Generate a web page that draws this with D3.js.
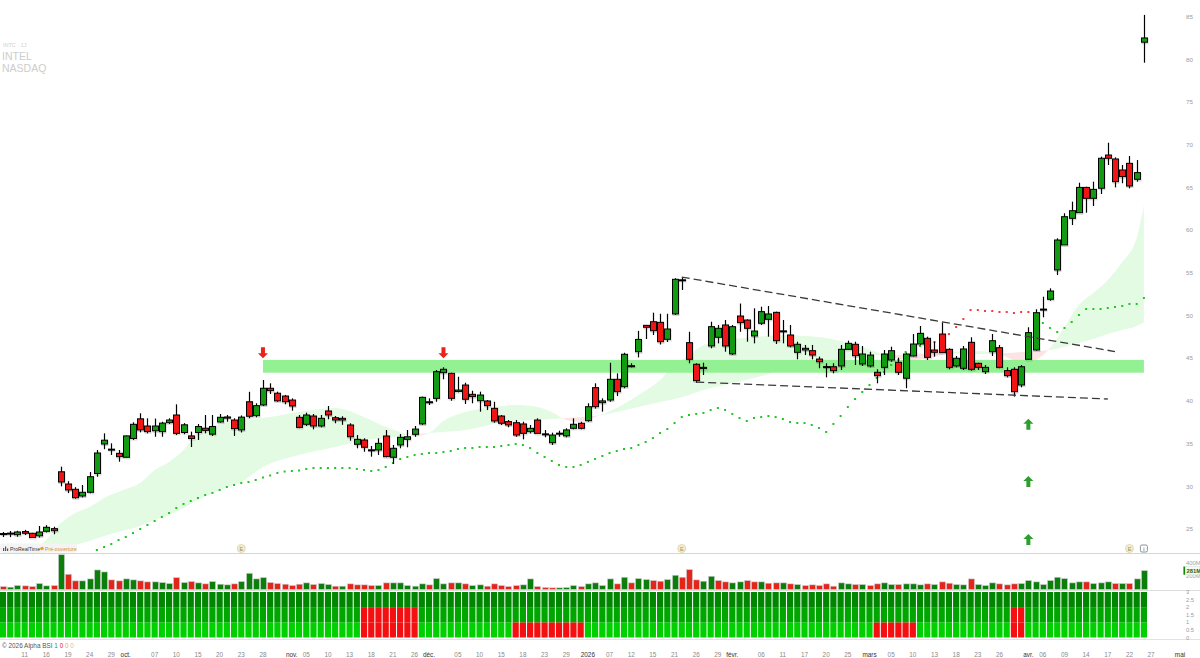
<!DOCTYPE html>
<html><head><meta charset="utf-8">
<script src="https://cdn.jsdelivr.net/npm/d3@7"></script>
<style>body{margin:0;background:#fff}svg{display:block;font-family:"Liberation Sans",Arial,sans-serif}</style>
</head><body><svg id="c" width="1200" height="658"></svg>
<script>
// ---------- DATA ----------
const tradingDays = {
 "2025-09":[8,9,10,11,12,15,16,17,18,19,22,23,24,25,26,29,30],
 "2025-10":[1,2,3,6,7,8,9,10,13,14,15,16,17,20,21,22,23,24,27,28,29,30,31],
 "2025-11":[3,4,5,6,7,10,11,12,13,14,17,18,19,20,21,24,25,26,28],
 "2025-12":[1,2,3,4,5,8,9,10,11,12,15,16,17,18,19,22,23,24,26,29,30,31],
 "2026-01":[2,5,6,7,8,9,12,13,14,15,16,20,21,22,23,26,27,28,29,30],
 "2026-02":[2,3,4,5,6,9,10,11,12,13,17,18,19,20,23,24,25,26,27],
 "2026-03":[2,3,4,5,6,9,10,11,12,13,16,17,18,19,20,23,24,25,26,27,30,31],
 "2026-04":[1,2,6,7,8,9,10,13,14,15,16,17,20,21,22,23,24,27,28,29,30],
 "2026-05":[1]
};
const open = [24.45,24.50,24.33,24.70,24.50,24.20,24.73,25.04,31.70,30.27,
29.65,28.86,29.30,31.50,34.95,34.33,33.86,33.40,35.60,37.90,
37.06,36.50,36.40,37.45,38.35,36.30,35.90,36.30,36.80,36.10,
37.53,37.98,37.76,36.60,39.90,38.27,39.52,41.48,40.90,40.57,
40.10,38.08,37.26,38.23,37.06,38.82,38.03,37.96,37.18,34.92,
35.42,34.25,34.25,35.89,33.40,34.84,35.50,36.09,37.30,39.87,
40.30,43.30,43.23,41.10,41.86,40.77,40.02,39.99,39.13,38.23,
37.57,37.45,37.30,36.40,37.76,36.12,35.10,36.20,35.90,36.79,
37.38,37.68,41.55,39.79,40.10,42.53,41.66,44.09,45.76,48.85,
49.27,49.20,47.21,50.18,54.16,46.82,44.29,43.80,46.43,47.45,
48.89,45.50,49.94,49.47,47.60,49.09,49.55,50.37,48.18,47.72,
45.69,45.96,45.88,44.90,44.00,44.00,44.09,46.04,46.63,44.32,
44.09,43.35,43.93,44.79,44.52,42.65,45.26,46.66,47.33,45.96,
47.83,46.04,44.09,43.82,46.86,44.40,43.42,45.76,46.23,43.54,
43.70,41.86,44.87,45.96,50.73,51.90,55.33,58.26,61.38,62.04,
65.00,63.72,64.90,68.79,68.33,67.04,67.82,65.95,82.00];
const high = [24.65,24.76,24.80,24.90,24.55,25.35,25.45,25.27,32.30,30.60,
29.90,30.15,31.67,34.25,36.20,35.03,34.25,35.95,37.49,38.55,
37.96,37.93,37.56,37.96,39.60,37.40,36.40,37.30,38.35,38.35,
38.47,38.35,37.96,38.30,41.07,39.72,42.45,42.06,41.08,40.70,
40.30,38.35,38.62,38.47,38.35,39.40,38.23,38.20,37.38,36.00,
35.62,34.72,35.62,36.59,34.84,36.12,36.59,37.06,40.50,40.30,
43.62,43.93,43.30,42.83,42.13,41.19,41.08,40.10,39.90,38.35,
37.76,37.76,37.56,37.18,37.96,36.59,36.28,36.51,36.79,37.96,
37.56,39.72,42.06,40.30,44.47,43.23,45.64,44.40,48.20,48.89,
50.33,50.20,50.20,54.36,54.47,48.10,44.40,44.47,49.27,48.89,
49.47,48.89,51.40,49.55,50.84,51.03,51.11,50.45,49.47,48.89,
46.93,46.55,46.55,45.18,44.40,44.40,46.55,47.05,46.93,46.43,
45.76,43.70,45.96,46.35,45.06,45.64,47.83,48.77,47.52,46.93,
49.20,46.16,45.26,46.43,47.45,44.47,44.20,47.83,46.55,43.93,
43.93,44.20,48.62,50.73,52.20,53.18,59.04,61.97,63.33,65.55,
65.08,65.67,68.60,70.23,68.52,67.62,68.68,68.20,85.20];
const low = [24.06,24.05,24.10,24.30,23.95,24.00,24.60,24.38,30.00,29.20,
28.55,28.70,29.18,31.12,34.35,33.67,32.88,33.35,35.42,36.32,
36.20,35.80,35.80,37.30,36.00,36.10,34.60,35.42,36.20,35.90,
37.45,37.56,35.90,36.30,37.96,38.08,39.40,40.81,39.90,39.60,
38.85,36.79,37.06,36.67,36.91,37.85,37.38,37.20,35.34,34.45,
34.05,33.47,33.67,33.40,32.61,34.45,34.57,35.80,37.20,39.52,
39.90,42.53,40.02,41.00,39.64,39.72,38.74,38.93,37.45,37.18,
36.91,35.80,35.50,36.20,36.12,35.74,34.84,35.80,35.74,36.67,
36.67,37.56,39.10,38.74,39.90,40.57,41.48,43.93,45.10,47.25,
47.72,46.60,46.90,50.06,52.99,44.40,42.13,43.03,46.16,46.74,
45.76,45.37,48.10,46.93,46.74,48.89,47.52,46.66,46.74,46.28,
44.87,45.37,44.87,43.82,42.76,43.23,43.62,45.96,44.20,44.09,
43.93,42.06,43.03,44.59,43.03,41.48,45.20,46.55,44.79,45.18,
45.60,43.70,43.93,43.62,43.54,43.62,43.15,45.26,43.82,42.76,
40.50,41.59,44.79,45.88,49.79,51.73,54.74,58.26,60.60,62.04,
62.04,62.82,64.23,67.62,65.00,65.48,64.89,65.67,79.60];
const close = [24.47,24.52,24.65,24.50,24.00,24.65,25.20,24.80,30.50,29.57,
28.66,29.30,31.12,33.90,35.40,34.35,33.47,35.90,37.26,36.60,
36.40,37.06,37.40,37.76,36.20,37.20,35.60,37.00,36.55,37.00,
38.08,38.12,36.75,38.10,38.20,39.44,41.48,41.20,40.00,39.90,
39.40,36.90,38.35,37.06,37.96,38.35,37.76,37.76,35.80,35.50,
34.57,34.27,35.03,33.47,34.45,35.74,35.80,36.70,40.42,39.90,
43.42,43.70,40.30,41.27,40.19,40.50,40.69,39.44,37.65,37.38,
37.18,36.00,36.20,36.79,36.20,36.14,36.00,36.22,36.60,37.26,
36.79,39.32,39.32,40.00,42.53,41.08,45.46,44.12,47.20,48.62,
48.22,46.93,48.42,54.24,54.18,44.87,42.37,43.93,48.69,48.50,
46.43,48.69,49.16,48.50,48.18,50.45,50.18,47.05,48.20,46.43,
46.63,46.16,45.37,44.59,44.02,43.54,46.04,46.74,45.30,45.49,
45.37,42.95,45.49,45.88,43.35,45.49,46.66,47.91,45.10,45.69,
45.65,43.93,44.99,46.08,43.70,43.93,43.93,47.05,43.93,42.95,
41.08,44.00,47.99,50.33,50.75,52.87,58.84,61.57,62.27,65.00,
63.72,64.77,68.41,68.41,65.67,66.26,65.16,66.73,82.50];
// volume in millions
const volume = [45,35,60,55,45,90,55,60,525,230,
130,130,160,295,265,145,130,160,145,130,
115,115,105,90,180,105,120,100,85,120,
80,70,85,120,245,160,180,105,90,80,
60,80,100,75,90,75,50,50,85,70,
70,60,60,100,100,100,60,50,85,70,
165,85,100,100,85,60,70,50,85,60,
45,60,70,160,45,30,25,25,30,60,
45,85,100,60,160,85,185,100,165,150,
135,125,150,215,185,300,145,125,200,135,
115,100,115,135,115,115,95,100,100,85,
75,60,70,60,85,50,100,85,75,75,
60,85,100,75,75,85,85,70,85,75,
115,95,75,70,160,75,60,100,85,70,
85,90,135,115,75,135,185,165,100,115,
115,90,100,115,90,90,90,160,285];
// Alpha BSI score (3 = all green, 2 = lowest block red, 1 = two lowest blocks red)
const alphaBSI = [3,3,3,3,3,3,3,3,3,3, 3,3,3,3,3,3,3,3,3,3, 3,3,3,3,3,3,3,3,3,3, 3,3,3,3,3,3,3,3,3,3, 3,3,3,3,3,3,3,3,3,3,
1,1,1,1,1,1,1,1, 3,3,3,3,3,3,3,3,3,3,3,3,3, 2,2,2,2,2,2,2,2,2,2,
3,3,3,3,3,3,3,3,3,3, 3,3,3,3,3,3,3,3,3,3, 3,3,3,3,3,3,3,3,3,3, 3,3,3,3,3,3,3,3,3,3,
2,2,2,2,2,2, 3,3,3,3,3,3,3,3,3,3,3,3,3, 1,1, 3,3,3,3,3,3,3,3,3,3,3,3,3,3,3,3,3];
// dotted trailing line, starting 2025-09-25
const trailStart = "2025-09-25";
const trailValues = [22.54,22.89,23.24,23.71,24.06,24.53,25.00,25.47,25.94,26.41,26.87,
27.46,27.93,28.28,28.63,28.98,29.22,29.57,29.92,30.15,30.39,
30.50,30.74,31.03,31.26,31.56,31.73,31.79,31.85,32.03,32.14,
32.14,32.14,32.14,32.14,32.14,32.03,31.91,31.79,31.91,32.26,
32.73,33.20,33.43,33.67,33.78,33.90,33.90,34.02,34.13,34.37,
34.48,34.48,34.60,34.60,34.60,34.72,34.84,34.95,34.84,34.48,
33.90,33.43,32.96,32.49,32.26,32.26,32.49,32.85,33.20,33.55,
33.90,34.13,34.37,34.48,34.84,35.19,35.66,36.24,36.71,37.41,
38.11,38.35,38.47,38.58,38.93,39.17,38.93,38.47,38.00,37.65,
38.00,38.11,38.23,38.11,37.88,37.53,37.41,37.41,37.18,36.83,
36.36,37.30,38.23,39.29,40.22,41.04,41.86,42.68,43.38,44.20,
44.79,45.73,46.08,46.43,46.66,46.90,47.37,47.83,48.65,49.59,
50.64,50.64,50.53,50.53,50.41,50.41,50.29,50.41,50.41,49.71,
49.12,48.54,48.07,48.54,49.24,50.06,50.76,50.76,50.76,50.88,
51.00,51.11,51.35,51.35,52.05];
const trailRed = ["2026-03-13","2026-04-01"];
// moving-average band
const bandDates = ["2025-09-08","2025-09-15","2025-09-18","2025-09-22","2025-09-24","2025-09-26","2025-10-01","2025-10-03","2025-10-07","2025-10-09","2025-10-13","2025-10-15","2025-10-20","2025-10-23","2025-10-28","2025-11-04","2025-11-11","2025-11-17","2025-11-20","2025-11-24","2025-11-26","2025-12-01","2025-12-03","2025-12-08","2025-12-12","2025-12-17","2025-12-22","2025-12-24","2025-12-29","2025-12-31","2026-01-05","2026-01-08","2026-01-13","2026-01-16","2026-01-21","2026-01-23","2026-01-27","2026-01-30","2026-02-05","2026-02-11","2026-02-17","2026-02-20","2026-02-25","2026-02-27","2026-03-03","2026-03-05","2026-03-10","2026-03-13","2026-03-17","2026-03-20","2026-03-25","2026-03-27","2026-03-31","2026-04-02","2026-04-07","2026-04-09","2026-04-13","2026-04-15","2026-04-17","2026-04-21","2026-04-23","2026-04-24"];
const bandFast = [22.54,23.13,25.70,26.87,27.58,28.63,29.68,30.39,31.91,32.85,34.25,36.24,37.30,37.88,38.00,38.70,39.17,38.11,36.94,36.36,35.89,36.24,37.65,38.70,39.29,39.52,39.29,38.70,37.76,37.53,38.11,39.17,40.69,42.45,44.20,45.37,46.55,47.13,47.48,47.72,47.60,47.37,46.78,46.31,45.73,45.14,44.79,45.14,45.61,45.84,45.73,45.14,44.44,44.79,46.19,48.65,51.23,52.63,54.16,56.26,59.07,62.93];
const bandSlow = [21.84,22.19,22.66,23.13,23.59,24.18,24.88,25.35,26.05,26.64,27.46,28.40,29.57,30.50,32.26,33.67,34.60,35.42,35.66,35.89,36.12,36.24,36.36,36.59,37.30,37.65,37.76,37.88,38.00,38.11,38.23,38.70,39.29,39.87,40.22,40.69,41.28,41.86,42.68,43.62,44.20,44.67,44.91,45.14,45.37,45.37,45.49,45.61,45.61,45.49,45.49,45.61,45.73,45.84,45.96,46.31,46.78,47.25,47.83,48.30,48.77,49.24];
const zone = {from:"2025-10-28", to:"2026-04-24", lo:43.3, hi:44.8};
const trendLines = [
 {d1:"2026-01-22", p1:54.5, d2:"2026-04-20", p2:45.78},
 {d1:"2026-01-26", p1:42.2, d2:"2026-04-17", p2:40.22}
];
const sellSignals = [{d:"2025-10-28", p:45.0},{d:"2025-12-03", p:45.0}];
const buySignals = [{d:"2026-04-01", p:37.9},{d:"2026-04-01", p:31.2},{d:"2026-04-01", p:24.4}];
const events = [{d:"2025-10-23", t:"E"},{d:"2026-01-22", t:"E"},{d:"2026-04-22", t:"E"}];
const priceTicks = [25,30,35,40,45,50,55,60,65,70,75,80,85];
const volTicks = [{v:400,t:"400M"},{v:200,t:"200M"}];
const lastVolLabel = "281M";
const bsiTicks = [0,0.5,1,1.5,2,2.5,3];
const xTicks = [["2025-09-11","11"],["2025-09-16","16"],["2025-09-19","19"],["2025-09-24","24"],["2025-09-29","29"],["2025-10-01","oct."],["2025-10-07","07"],["2025-10-10","10"],["2025-10-15","15"],["2025-10-20","20"],["2025-10-23","23"],["2025-10-28","28"],["2025-11-03","nov."],["2025-11-05","05"],["2025-11-10","10"],["2025-11-13","13"],["2025-11-18","18"],["2025-11-21","21"],["2025-11-26","26"],["2025-12-01","déc."],["2025-12-05","05"],["2025-12-10","10"],["2025-12-15","15"],["2025-12-18","18"],["2025-12-23","23"],["2025-12-29","29"],["2026-01-02","2026"],["2026-01-07","07"],["2026-01-12","12"],["2026-01-15","15"],["2026-01-21","21"],["2026-01-26","26"],["2026-01-29","29"],["2026-02-02","févr."],["2026-02-06","06"],["2026-02-11","11"],["2026-02-17","17"],["2026-02-20","20"],["2026-02-25","25"],["2026-03-02","mars"],["2026-03-05","05"],["2026-03-10","10"],["2026-03-13","13"],["2026-03-18","18"],["2026-03-23","23"],["2026-03-26","26"],["2026-04-01","avr."],["2026-04-06","06"],["2026-04-09","09"],["2026-04-14","14"],["2026-04-17","17"],["2026-04-22","22"],["2026-04-27","27"],["2026-05-01","mai"]];
const monthLabels = ["oct.","nov.","déc.","2026","févr.","mars","avr.","mai"];

// ---------- CHART ----------
const dates = Object.entries(tradingDays).flatMap(([m,ds]) => ds.map(d => m + "-" + String(d).padStart(2,"0")));
const svg = d3.select("#c");
const x = d3.scalePoint().domain(dates).range([3, 1180]);
const y = d3.scaleLinear().domain([25,85]).range([529,16.6]);
const yv = d3.scaleLinear().domain([0,400]).range([589.5,563]);
const yb = d3.scaleLinear().domain([0,3]).range([637.5,592]);
const PB = 553;
const candles = open.map((o,i)=>({d:dates[i], o, h:high[i], l:low[i], c:close[i], v:volume[i], b:alphaBSI[i], pc: i>0?close[i-1]:Infinity}));

const defs = svg.append("defs");
defs.append("clipPath").attr("id","pp").append("rect").attr("x",0).attr("y",0).attr("width",1160).attr("height",PB);
const band = bandDates.map((d,i)=>({d, a:bandFast[i], b:bandSlow[i]}));
const ar = (y0,y1)=>d3.area().curve(d3.curveMonotoneX).x(d=>x(d.d)).y0(y0).y1(y1);
defs.append("clipPath").attr("id","belowA").append("path").attr("d", ar(PB+20, d=>y(d.a))(band));
defs.append("clipPath").attr("id","aboveA").append("path").attr("d", ar(-20, d=>y(d.a))(band));

// top-left labels
svg.append("text").attr("x",3).attr("y",47).attr("font-size",5.5).attr("fill","#cfcfcf").text("INTC · 1J");
svg.append("text").attr("x",2).attr("y",60).attr("font-size",10.5).attr("fill","#cdcdcd").text("INTEL");
svg.append("text").attr("x",2).attr("y",71.5).attr("font-size",10.5).attr("fill","#cdcdcd").text("NASDAQ");

const gp = svg.append("g").attr("clip-path","url(#pp)");
gp.append("g").attr("clip-path","url(#belowA)").append("path").attr("d", ar(d=>y(d.b), -20)(band)).attr("fill","#e3fbe3");
gp.append("g").attr("clip-path","url(#aboveA)").append("path").attr("d", ar(d=>y(d.b), PB+20)(band)).attr("fill","#fde4e4");

// horizontal zone
gp.append("rect").attr("x",x(zone.from)).attr("width",x(zone.to)-x(zone.from))
  .attr("y",y(zone.hi)).attr("height",y(zone.lo)-y(zone.hi)).attr("fill","#93f193");

// trailing dots
const ts = dates.indexOf(trailStart);
const trail = trailValues.map((v,i)=>({d:dates[ts+i], v}));
const r0 = dates.indexOf(trailRed[0]), r1 = dates.indexOf(trailRed[1]);
gp.selectAll("rect.dot").data(trail).join("rect").attr("class","dot")
  .attr("x",d=>x(d.d)-1).attr("y",d=>y(d.v)-1).attr("width",2).attr("height",2)
  .attr("fill",d=>{const k=dates.indexOf(d.d); return (k>=r0&&k<=r1)?"#ef3b3b":"#22c422";});

// candles
const cg = gp.append("g");
const px = d=>Math.round(x(d.d));
cg.selectAll("line.wick").data(candles).join("line").attr("class","wick")
  .attr("x1",d=>px(d)+0.5).attr("x2",d=>px(d)+0.5).attr("y1",d=>y(d.h)).attr("y2",d=>y(d.l))
  .attr("stroke","#000").attr("stroke-width",1.2);
cg.selectAll("rect.sh").data(candles).join("rect").attr("class","sh")
  .attr("x",d=>px(d)-2).attr("width",6)
  .attr("y",d=>Math.min(y(d.o),y(d.c))+0.5).attr("height",d=>Math.max(1.5,Math.abs(y(d.o)-y(d.c))+1))
  .attr("fill","none").attr("stroke","rgba(0,0,0,0.18)").attr("stroke-width",1);
cg.selectAll("rect.body").data(candles).join("rect").attr("class","body")
  .attr("x",d=>px(d)-2.5).attr("width",6)
  .attr("y",d=>Math.min(y(d.o),y(d.c))).attr("height",d=>Math.max(1,Math.abs(y(d.o)-y(d.c))))
  .attr("fill",d=>d.c>=d.o?"#139a13":"#f01414").attr("stroke","#000").attr("stroke-width",1);

// trend lines
gp.selectAll("line.tl").data(trendLines).join("line").attr("class","tl")
  .attr("x1",d=>x(d.d1)).attr("y1",d=>y(d.p1)).attr("x2",d=>x(d.d2)).attr("y2",d=>y(d.p2))
  .attr("stroke","#3a3a3a").attr("stroke-width",1.3).attr("stroke-dasharray","8,4");

// signal arrows
const arrowDown = (cx,tip)=>`M${cx-2},${tip-11}H${cx+2}V${tip-5}H${cx+5}L${cx},${tip}L${cx-5},${tip-5}H${cx-2}Z`;
const arrowUp = (cx,tip)=>`M${cx-2},${tip+11}H${cx+2}V${tip+5}H${cx+5}L${cx},${tip}L${cx-5},${tip+5}H${cx-2}Z`;
svg.selectAll("path.sell").data(sellSignals).join("path").attr("class","sell")
  .attr("d",d=>arrowDown(x(d.d),y(d.p))).attr("fill","#e8231b");
svg.selectAll("path.buy").data(buySignals).join("path").attr("class","buy")
  .attr("d",d=>arrowUp(x(d.d),y(d.p))).attr("fill","#2f9e2f");

// bottom-left of price panel
const lg = svg.append("g");
lg.append("rect").attr("x",0).attr("y",543.5).attr("width",77).attr("height",9).attr("rx",2).attr("fill","#f4f4f4");
[[3,3],[5,4.5],[7,2.5]].forEach(([bx,bh])=>lg.append("rect").attr("x",bx).attr("y",551-bh).attr("width",1.2).attr("height",bh).attr("fill","#555"));
lg.append("text").attr("x",10).attr("y",550.8).attr("font-size",5.2).attr("fill","#333").text("ProRealTime");
lg.append("circle").attr("cx",42).attr("cy",548.5).attr("r",1.8).attr("fill","#f0a020");
lg.append("text").attr("x",45).attr("y",550.8).attr("font-size",5.2).attr("fill","#d9902a").text("Pré-ouverture");

// event badges
const eg = svg.selectAll("g.ev").data(events).join("g").attr("class","ev").attr("transform",d=>`translate(${x(d.d)},548.5)`);
eg.append("circle").attr("r",4).attr("fill","#f3eed3").attr("stroke","#d8d0a6").attr("stroke-width",0.8);
eg.append("text").attr("text-anchor","middle").attr("y",2).attr("font-size",5.5).attr("fill","#a0904a").text(d=>d.t);
const ib = svg.append("g").attr("transform",`translate(${x(dates[candles.length-1])},548.5)`);
ib.append("rect").attr("x",-3.5).attr("y",-3.5).attr("width",7).attr("height",7).attr("rx",1.5).attr("fill","#fff").attr("stroke","#777").attr("stroke-width",0.8);
ib.append("text").attr("text-anchor","middle").attr("y",2.2).attr("font-size",5.5).attr("fill","#444").text("i");

// separators
svg.append("line").attr("x1",0).attr("x2",1200).attr("y1",PB+0.5).attr("y2",PB+0.5).attr("stroke","#d6d6d6");
svg.append("line").attr("x1",0).attr("x2",1200).attr("y1",590.5).attr("y2",590.5).attr("stroke","#dcdcdc");
svg.append("line").attr("x1",0).attr("x2",1200).attr("y1",639.5).attr("y2",639.5).attr("stroke","#e2e2e2");

// price axis labels
svg.selectAll("text.pt").data(priceTicks).join("text").attr("class","pt")
  .attr("x",1186).attr("y",d=>y(d)+2.2).attr("font-size",6.2).attr("fill","#9b9b9b").text(d=>d);

// volume
svg.selectAll("rect.vol").data(candles).join("rect").attr("class","vol")
  .attr("x",d=>px(d)-2.5).attr("width",6).attr("y",d=>yv(d.v)).attr("height",d=>yv(0)-yv(d.v))
  .attr("fill",d=>d.c>=d.pc?"#0b7e0b":"#e3261c").attr("stroke","#cfcfcf").attr("stroke-width",0.6);
svg.selectAll("text.vt").data(volTicks).join("text").attr("class","vt")
  .attr("x",1186).attr("y",d=>yv(d.v)+2).attr("font-size",5.8).attr("fill","#a3a3a3").text(d=>d.t);
const lv = candles[candles.length-1].v;
svg.append("rect").attr("x",1183.5).attr("y",yv(lv)-4).attr("width",16).attr("height",8).attr("fill","#f2fbf2").attr("stroke","#cfe8cf").attr("stroke-width",0.6);
svg.append("rect").attr("x",1183.5).attr("y",yv(lv)-4).attr("width",1.6).attr("height",8).attr("fill","#0b8a0b");
svg.append("text").attr("x",1186.5).attr("y",yv(lv)+2.1).attr("font-size",5.8).attr("font-weight","bold").attr("fill","#2a5a2a").text(lastVolLabel);

// Alpha BSI stacked blocks
const greens = ["#00d000","#00a600","#008600"];
const bg = svg.append("g");
candles.forEach(d=>{
  for(let s=0;s<3;s++){
    const red = s < (3-d.b);
    bg.append("rect").attr("x",x(d.d)-3.1).attr("width",6.2)
      .attr("y",yb(s+1)).attr("height",yb(s)-yb(s+1))
      .attr("fill",red?"#f41010":greens[s]);
  }
});
svg.selectAll("text.bt").data(bsiTicks).join("text").attr("class","bt")
  .attr("x",1186).attr("y",d=>yb(d)+2).attr("font-size",5.8).attr("fill","#9b9b9b").text(d=>d);

// Alpha BSI legend
const al = svg.append("text").attr("x",2).attr("y",648).attr("font-size",6.4).attr("fill","#555");
al.append("tspan").text("© 2026 Alpha BSI ");
al.append("tspan").attr("fill","#21a021").text("1 ");
al.append("tspan").attr("fill","#e02020").text("0 ");
al.append("tspan").attr("fill","#e8b020").text("0 ");
al.append("tspan").attr("fill","#f0b0a0").text("0");

// x axis labels
svg.selectAll("text.xt").data(xTicks).join("text").attr("class","xt")
  .attr("x",d=>x(d[0])).attr("y",657).attr("text-anchor","middle").attr("font-size",6.4)
  .attr("fill",d=>monthLabels.includes(d[1])?"#333":"#8a8a8a").text(d=>d[1]);
</script></body></html>
